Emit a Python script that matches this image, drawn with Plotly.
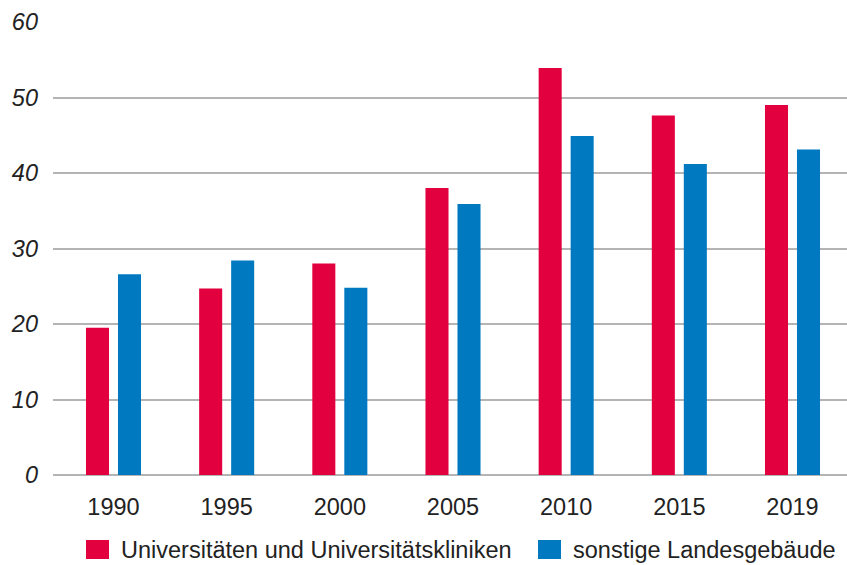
import plotly.graph_objects as go

# Data
years = ["1990", "1995", "2000", "2005", "2010", "2015", "2019"]
series_names = ["Universitäten und Universitätskliniken", "sonstige Landesgebäude"]
uni_values = [19.5, 24.7, 28.0, 38.0, 53.9, 47.6, 49.0]
other_values = [26.6, 28.4, 24.8, 35.9, 44.9, 41.2, 43.1]
y_ticks = [0, 10, 20, 30, 40, 50, 60]

colors = ["#E2003F", "#0079C1"]
FONT = "Liberation Sans"
TEXT_COLOR = "#222222"
FS = 23.5

W, H = 847, 565
M_L, M_R, M_T, M_B = 53, 0, 22, 90
plot_w = W - M_L - M_R
plot_h = H - M_T - M_B

fig = go.Figure()
for name, vals, col in zip(series_names, [uni_values, other_values], colors):
    fig.add_trace(go.Bar(x=years, y=vals, name=name, marker=dict(color=col, line=dict(width=0)),
                         showlegend=False))

fig.update_layout(
    width=W, height=H,
    margin=dict(l=M_L, r=M_R, t=M_T, b=M_B),
    paper_bgcolor="white", plot_bgcolor="white",
    barmode="group", bargap=0.4345, bargroupgap=0.28,
    font=dict(family=FONT, color=TEXT_COLOR),
    xaxis=dict(
        type="category", range=[-0.5346, 6.4816],
        showgrid=False, zeroline=False, showline=False, ticks="",
        tickfont=dict(size=FS, color=TEXT_COLOR, family=FONT),
        ticklabelstandoff=15,
    ),
    yaxis=dict(
        range=[0, 60], tickvals=y_ticks,
        showgrid=True, gridcolor="#b4b4b4", gridwidth=1.5,
        zeroline=True, zerolinecolor="#b4b4b4", zerolinewidth=1.5,
        showline=False, ticks="",
        tickfont=dict(size=FS, color=TEXT_COLOR, family=FONT, style="italic"),
        ticklabelstandoff=14,
    ),
)

# Legend with larger colour swatches, placed below the axis
def px_x(px):
    return (px - M_L) / plot_w

def px_y(py):
    return (H - M_B - py) / plot_h

legend_items = [(86, 119), (538, 571)]
for (sx, tx), name, col in zip(legend_items, series_names, colors):
    fig.add_shape(type="rect", xref="paper", yref="paper",
                  x0=px_x(sx), x1=px_x(sx + 23), y0=px_y(559), y1=px_y(540),
                  fillcolor=col, line=dict(width=0))
    fig.add_annotation(xref="paper", yref="paper", x=px_x(tx), y=px_y(550),
                       xanchor="left", yanchor="middle", showarrow=False,
                       text=name, font=dict(size=FS, color=TEXT_COLOR, family=FONT))

fig.write_html("out.html")
